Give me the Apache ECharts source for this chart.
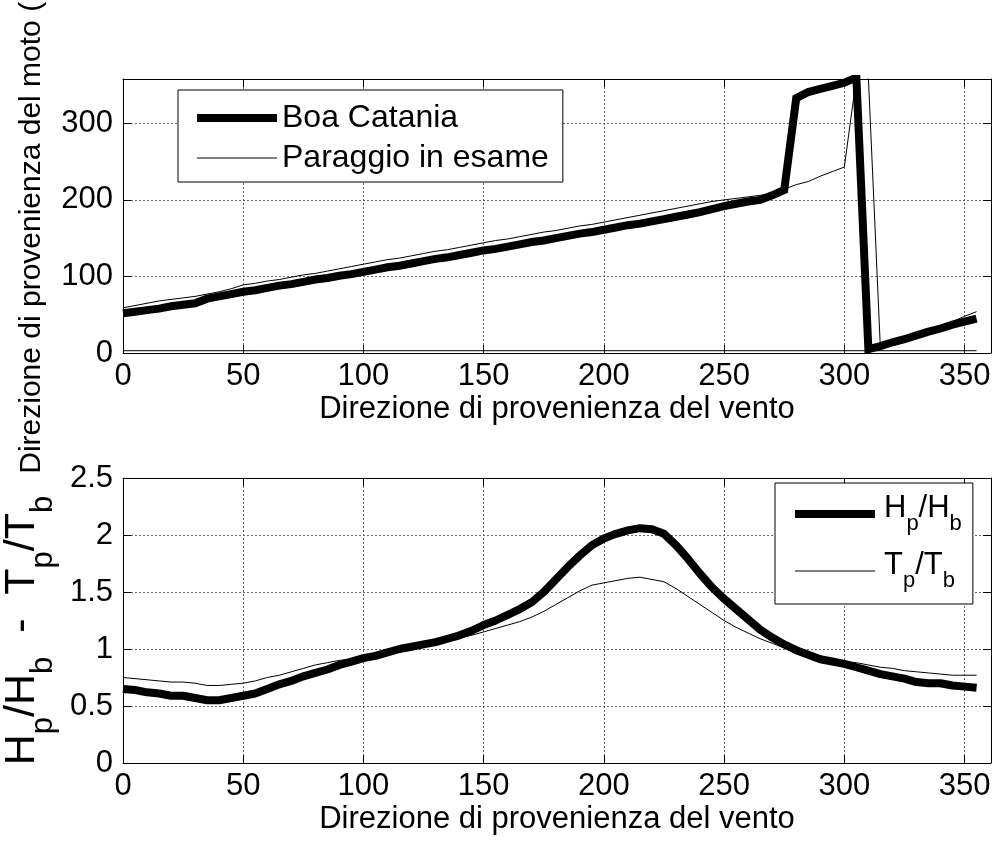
<!DOCTYPE html>
<html>
<head>
<meta charset="utf-8">
<script src="https://cdn.jsdelivr.net/npm/echarts@6/dist/echarts.min.js"></script>
<style>
  html, body { margin: 0; padding: 0; background: #fff; }
  #chart { width: 996px; height: 844px; }
</style>
</head>
<body>
<div id="chart"></div>
<script>
// Direzione di provenienza del vento (gradi)
const direzioniVento = [0, 5, 10, 15, 20, 25, 30, 35, 40, 45, 50, 55, 60, 65, 70, 75, 80, 85, 90, 95,
  100, 105, 110, 115, 120, 125, 130, 135, 140, 145, 150, 155, 160, 165, 170, 175, 180, 185, 190, 195,
  200, 205, 210, 215, 220, 225, 230, 235, 240, 245, 250, 255, 260, 265, 270, 275, 280, 285, 290, 295,
  300, 305, 310, 315, 320, 325, 330, 335, 340, 345, 350, 355];

// Direzione di provenienza del moto ondoso
const boaCatania = [52, 54, 56, 58, 61, 63, 65, 71, 74, 77, 80, 82, 85, 88, 90, 93, 96, 98, 101, 103,
  106, 109, 112, 114, 117, 120, 123, 125, 128, 131, 134, 136, 139, 142, 145, 147, 150, 153, 156, 158,
  161, 164, 167, 169, 172, 175, 178, 181, 184, 188, 192, 195, 198, 200, 206, 213, 333, 341, 345, 349,
  353, 360, 5, 9, 14, 18, 23, 28, 32, 37, 41, 45];
const paraggioInEsame = [59, 62, 65, 68, 70, 72, 74, 77, 80, 84, 89, 91, 94, 96, 99, 102, 104, 107, 110, 113,
  116, 119, 122, 124, 127, 130, 133, 135, 138, 141, 144, 147, 149, 152, 155, 158, 160, 163, 166, 168,
  171, 174, 177, 180, 183, 186, 189, 192, 195, 198, 200, 202, 204, 206, 209, 214, 220, 224, 231, 237,
  243, 360, 360, 6, 10, 16, 22, 29, 34, 41, 48, 54];
// linea sottile quasi a zero
const lineaBaseDir = [0, 355];
const lineaBaseVal = [3, 3];

// Rapporti di altezza e periodo
const rapportoH = [0.65, 0.64, 0.62, 0.61, 0.59, 0.59, 0.57, 0.55, 0.55, 0.57, 0.59, 0.61, 0.65, 0.69, 0.72, 0.76, 0.79, 0.82, 0.86, 0.89,
  0.92, 0.94, 0.97, 1.00, 1.02, 1.04, 1.06, 1.09, 1.12, 1.16, 1.21, 1.25, 1.30, 1.35, 1.41, 1.50, 1.61, 1.72, 1.82, 1.91,
  1.97, 2.01, 2.04, 2.06, 2.05, 2.01, 1.91, 1.79, 1.66, 1.54, 1.44, 1.35, 1.26, 1.17, 1.10, 1.04, 0.99, 0.95, 0.91, 0.89,
  0.87, 0.84, 0.81, 0.78, 0.76, 0.74, 0.71, 0.70, 0.70, 0.68, 0.67, 0.66];
const rapportoT = [0.75, 0.74, 0.73, 0.72, 0.71, 0.71, 0.70, 0.68, 0.68, 0.69, 0.70, 0.72, 0.75, 0.77, 0.80, 0.83, 0.86, 0.88, 0.90, 0.91,
  0.92, 0.94, 0.96, 0.98, 1.00, 1.02, 1.04, 1.07, 1.10, 1.12, 1.15, 1.18, 1.21, 1.24, 1.28, 1.33, 1.39, 1.45, 1.51, 1.56,
  1.58, 1.60, 1.62, 1.63, 1.61, 1.59, 1.53, 1.46, 1.39, 1.32, 1.25, 1.19, 1.14, 1.09, 1.05, 1.01, 0.98, 0.95, 0.93, 0.91,
  0.89, 0.88, 0.86, 0.84, 0.83, 0.81, 0.80, 0.79, 0.78, 0.77, 0.77, 0.77];

const xTicks = { min: 0, max: 361, interval: 50 };
const yTicksDir = { min: 0, max: 358, interval: 100 };
const yTicksRap = { min: 0, max: 2.5, interval: 0.5 };

const FONT = 'Liberation Sans, Arial, Helvetica, sans-serif';
const pair = (xs, ys) => xs.map((x, i) => [x, ys[i]]);

// pedici per le legende e per il titolo dell'asse
const subRich = {
  h: { fontSize: 31, fontFamily: FONT, color: '#000', lineHeight: 36, verticalAlign: 'top', padding: [0, 0, 0, 4] },
  m: { fontSize: 31, fontFamily: FONT, color: '#000', lineHeight: 36, verticalAlign: 'top' },
  s: { fontSize: 22, fontFamily: FONT, color: '#000', padding: [20, 0, 0, 0], verticalAlign: 'top' }
};
const subRichAxis = {
  m: { fontSize: 43, fontFamily: FONT, color: '#000', lineHeight: 47, verticalAlign: 'top' },
  s: { fontSize: 31, fontFamily: FONT, color: '#000', padding: [27, 0, 0, 0], verticalAlign: 'top' }
};
const legendLabels = {
  'Hp/Hb': '{h|H}{s|p}{m|/H}{s|b}',
  'Tp/Tb': '{h|T}{s|p}{m|/T}{s|b}'
};

const gridLine = { show: true, lineStyle: { color: '#666', width: 1, type: [2, 2] } };
const boxLine = { show: true, onZero: false, lineStyle: { color: '#000', width: 1 } };
const innerTick = { show: true, inside: true, length: 8, lineStyle: { color: '#000', width: 1 } };
const tickLabel = { color: '#000', fontSize: 31, fontFamily: FONT };

function xMain(grid) {
  return Object.assign({
    type: 'value', gridIndex: grid, position: 'bottom',
    axisLine: boxLine, axisTick: innerTick, splitLine: gridLine,
    axisLabel: Object.assign({ margin: 8, showMaxLabel: false }, tickLabel),
    name: 'Direzione di provenienza del vento', nameLocation: 'middle', nameGap: 41,
    nameTextStyle: { color: '#000', fontSize: 31, fontFamily: FONT }
  }, xTicks);
}
function xTop(grid) {
  return Object.assign({
    type: 'value', gridIndex: grid, position: 'top',
    axisLine: boxLine, axisTick: innerTick, splitLine: { show: false }, axisLabel: { show: false }
  }, xTicks);
}
function yRight(grid, ticks) {
  return Object.assign({
    type: 'value', gridIndex: grid, position: 'right',
    axisLine: boxLine, axisTick: innerTick, splitLine: { show: false }, axisLabel: { show: false }
  }, ticks);
}

const option = {
  animation: false,
  backgroundColor: '#fff',
  grid: [
    { left: 123, top: 79, width: 868, height: 274, outerBoundsMode: 'none', containLabel: false },
    { left: 123, top: 478, width: 868, height: 285, outerBoundsMode: 'none', containLabel: false }
  ],
  xAxis: [xMain(0), xTop(0), xMain(1), xTop(1)],
  yAxis: [
    Object.assign({
      type: 'value', gridIndex: 0, position: 'left',
      axisLine: boxLine, axisTick: innerTick, splitLine: gridLine,
      axisLabel: Object.assign({ margin: 10, showMaxLabel: false }, tickLabel),
      name: 'Direzione di provenienza del moto (°N)', nameLocation: 'middle', nameGap: 74,
      nameTextStyle: { color: '#000', fontSize: 30, fontFamily: FONT, lineHeight: 34 }
    }, yTicksDir),
    yRight(0, yTicksDir),
    Object.assign({
      type: 'value', gridIndex: 1, position: 'left',
      axisLine: boxLine, axisTick: innerTick, splitLine: gridLine,
      axisLabel: Object.assign({ margin: 10 }, tickLabel),
      name: '{m|H}{s|p}{m|/H}{s|b}{m|  -  T}{s|p}{m|/T}{s|b}', nameLocation: 'middle', nameGap: 52,
      nameTextStyle: { rich: subRichAxis, padding: [0, 20, 0, 0] }
    }, yTicksRap),
    yRight(1, yTicksRap)
  ],
  legend: [
    {
      data: [
        { name: 'Boa Catania', lineStyle: { width: 8, color: '#000' } },
        { name: 'Paraggio in esame', lineStyle: { width: 1, color: '#000' } }
      ],
      orient: 'vertical', left: 178, top: 90,
      backgroundColor: '#fff', borderColor: '#000', borderWidth: 1, borderRadius: 0,
      padding: [12, 14, 8, 15], itemWidth: 80, itemHeight: 14, itemGap: 8,
      itemStyle: { opacity: 0 },
      textStyle: { color: '#000', fontSize: 32, fontFamily: FONT, lineHeight: 32 },
      selectedMode: false
    },
    {
      data: [
        { name: 'Hp/Hb', lineStyle: { width: 8, color: '#000' } },
        { name: 'Tp/Tb', lineStyle: { width: 1, color: '#000' } }
      ],
      orient: 'vertical', left: 775, top: 483,
      backgroundColor: '#fff', borderColor: '#000', borderWidth: 1, borderRadius: 0,
      padding: [10, 11, 12, 16], itemWidth: 80, itemHeight: 14, itemGap: 15,
      itemStyle: { opacity: 0 },
      formatter: name => legendLabels[name],
      textStyle: { rich: subRich },
      selectedMode: false
    }
  ],
  series: [
    {
      name: 'Paraggio in esame', type: 'line', xAxisIndex: 0, yAxisIndex: 0,
      data: pair(direzioniVento, paraggioInEsame), symbol: 'none',
      lineStyle: { color: '#000', width: 1 }, itemStyle: { color: '#000' }
    },
    {
      name: 'base', type: 'line', xAxisIndex: 0, yAxisIndex: 0,
      data: pair(lineaBaseDir, lineaBaseVal), symbol: 'none',
      lineStyle: { color: '#000', width: 1 }
    },
    {
      name: 'Boa Catania', type: 'line', xAxisIndex: 0, yAxisIndex: 0,
      data: pair(direzioniVento, boaCatania), symbol: 'none',
      lineStyle: { color: '#000', width: 8, join: 'miter', miterLimit: 3 }, itemStyle: { color: '#000' }
    },
    {
      name: 'Tp/Tb', type: 'line', xAxisIndex: 2, yAxisIndex: 2,
      data: pair(direzioniVento, rapportoT), symbol: 'none',
      lineStyle: { color: '#000', width: 1 }, itemStyle: { color: '#000' }
    },
    {
      name: 'Hp/Hb', type: 'line', xAxisIndex: 2, yAxisIndex: 2,
      data: pair(direzioniVento, rapportoH), symbol: 'none',
      lineStyle: { color: '#000', width: 8, join: 'round' }, itemStyle: { color: '#000' }
    }
  ]
};

const chart = echarts.init(document.getElementById('chart'), null, { renderer: 'canvas' });
chart.setOption(option);
</script>
</body>
</html>
